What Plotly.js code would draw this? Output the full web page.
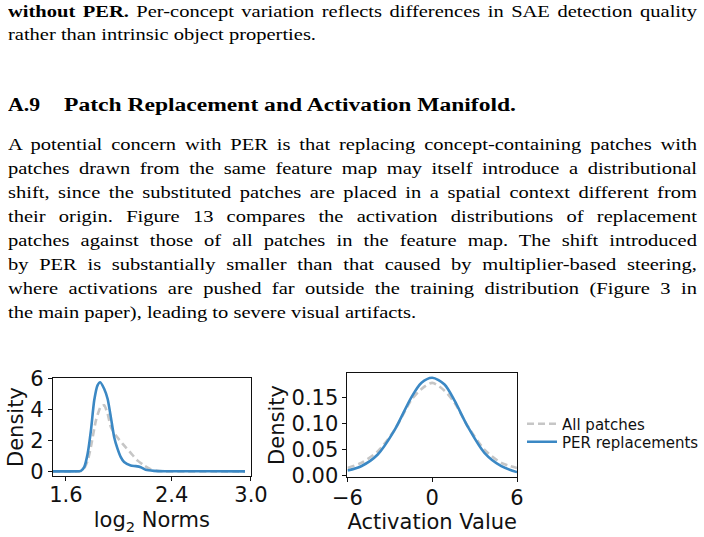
<!DOCTYPE html>
<html>
<head>
<meta charset="utf-8">
<script src="https://cdn.plot.ly/plotly-3.0.1.min.js"></script>
<style>
  html, body { margin: 0; padding: 0; background: #fff; }
  body { width: 704px; height: 537px; position: relative; overflow: hidden; }
  .ln { position: absolute; left: 8px; width: 574px; font-family: 'Liberation Serif', serif; font-size: 17px; line-height: 24px; color: #000; text-align: justify; text-align-last: justify; transform-origin: 0 0; transform: scaleX(1.2); }
  .ln.last { text-align-last: left; }
  .hd { position: absolute; font-family: 'Liberation Serif', serif; font-weight: bold; font-size: 18px; line-height: 24px; color: #000; white-space: nowrap; transform-origin: 0 0; }
  #measure { position: absolute; visibility: hidden; white-space: nowrap; font-family: 'Liberation Serif', serif; font-size: 17px; }
  #chart { position: absolute; left: 0; top: 360px; width: 704px; height: 177px; }
</style>
</head>
<body>
<div class="ln" style="top:0px"><b>without PER.</b> Per-concept variation reflects differences in SAE detection quality</div>
<div class="ln last" style="top:23px">rather than intrinsic object properties.</div>
<div class="hd" id="hdNum" style="top:93px;left:8px">A.9</div>
<div class="hd" id="hdText" style="top:93px;left:64px">Patch Replacement and Activation Manifold.</div>
<div class="ln" style="top:133px">A potential concern with PER is that replacing concept-containing patches with</div>
<div class="ln" style="top:157px">patches drawn from the same feature map may itself introduce a distributional</div>
<div class="ln" style="top:181px">shift, since the substituted patches are placed in a spatial context different from</div>
<div class="ln" style="top:205px">their origin. Figure 13 compares the activation distributions of replacement</div>
<div class="ln" style="top:229px">patches against those of all patches in the feature map. The shift introduced</div>
<div class="ln" style="top:253px">by PER is substantially smaller than that caused by multiplier-based steering,</div>
<div class="ln" style="top:277px">where activations are pushed far outside the training distribution (Figure 3 in</div>
<div class="ln last" style="top:301px">the main paper), leading to severe visual artifacts.</div>
<span id="measure">rather than intrinsic object properties.</span>
<div id="chart"></div>
<script>
// ---- Data ----
const seriesNames = ["All patches", "PER replacements"];

// Left panel: log2 norms densities
const normAllX = [1.50, 1.60, 1.70, 1.73, 1.764, 1.789, 1.827, 1.864, 1.889, 1.915, 1.940, 1.977, 2.028, 2.09, 2.14, 2.19, 2.24, 2.29, 2.35, 2.5, 2.7, 2.955];
const normAllY = [0.0, 0.0, 0.01, 0.1, 0.7, 1.6, 3.3, 4.2, 4.28, 3.74, 2.88, 2.34, 1.8, 1.2, 0.72, 0.4, 0.15, 0.04, 0.01, 0.0, 0.0, 0.0];
const normPerX = [1.50, 1.60, 1.70, 1.715, 1.738, 1.764, 1.789, 1.814, 1.839, 1.859, 1.889, 1.915, 1.940, 1.965, 1.990, 2.015, 2.040, 2.090, 2.128, 2.166, 2.204, 2.266, 2.35, 2.5, 2.7, 2.955];
const normPerY = [0.01, 0.01, 0.02, 0.05, 0.28, 1.14, 2.66, 4.6, 5.57, 5.77, 5.35, 4.7, 3.5, 2.22, 1.48, 0.93, 0.61, 0.39, 0.35, 0.28, 0.11, 0.04, 0.02, 0.02, 0.02, 0.01];

// Right panel: activation value densities
const actX = [-6, -5.03, -3.86, -2.67, -1.49, -0.78, 0, 0.87, 1.58, 2.52, 3.71, 4.89, 6];
const actAllY = [0.0154, 0.025, 0.047, 0.088, 0.145, 0.166, 0.178, 0.163, 0.14, 0.095, 0.05, 0.025, 0.015];
const actPerY = [0.0105, 0.0186, 0.041, 0.0876, 0.150, 0.178, 0.188, 0.175, 0.144, 0.094, 0.0436, 0.0186, 0.0073];

// Tick labels
const normTicks = [1.6, 2.4, 3.0];
const normTickText = ["1.6", "2.4", "3.0"];
const normYTicks = [0, 2, 4, 6];
const actTicks = [-6, 0, 6];
const actTickText = ["\u22126", "0", "6"];
const actYTicks = [0, 0.05, 0.10, 0.15];
const actYTickText = ["0.00", "0.05", "0.10", "0.15"];

// ---- Text fitting (serif body text is wider in the reference) ----
(function fitText() {
  const natural = document.getElementById("measure").getBoundingClientRect().width;
  const s = 308 / natural;
  document.querySelectorAll(".ln").forEach(function (el) {
    el.style.transform = "scaleX(" + s + ")";
    el.style.width = (689 / s) + "px";
  });
  function fitTo(id, w) {
    const el = document.getElementById(id);
    const nw = el.getBoundingClientRect().width;
    el.style.transform = "scaleX(" + (w / nw) + ")";
  }
  fitTo("hdNum", 32);
  fitTo("hdText", 452);
})();

// ---- Styling ----
const GRAY = "#c6c6c6";
const BLUE = "#3b88c4";
const FONT = "DejaVu Sans, sans-serif";

const traces = [
  {x: normAllX, y: normAllY, xaxis: "x", yaxis: "y", mode: "lines", name: seriesNames[0], showlegend: false,
   line: {color: GRAY, width: 2.6, dash: "7px,4px", shape: "spline", smoothing: 0.6}},
  {x: normPerX, y: normPerY, xaxis: "x", yaxis: "y", mode: "lines", name: seriesNames[1], showlegend: false,
   line: {color: BLUE, width: 2.6, shape: "spline", smoothing: 0.6}},
  {x: actX, y: actAllY, xaxis: "x2", yaxis: "y2", mode: "lines", name: seriesNames[0], legend: "legend",
   line: {color: GRAY, width: 2.6, dash: "7px,4px", shape: "spline", smoothing: 0.8}},
  {x: actX, y: actPerY, xaxis: "x2", yaxis: "y2", mode: "lines", name: seriesNames[1], legend: "legend2",
   line: {color: BLUE, width: 2.6, shape: "spline", smoothing: 0.8}}
];

const axCommon = {
  showline: true, mirror: true, linecolor: "#111", linewidth: 1,
  ticks: "outside", ticklen: 4, tickwidth: 1, tickcolor: "#111",
  showgrid: false, zeroline: false, fixedrange: true,
  tickfont: {family: FONT, size: 21, color: "#111"}
};
const titleFont = {family: FONT, size: 21, color: "#111"};

const layout = {
  width: 704, height: 177,
  margin: {l: 0, r: 0, t: 0, b: 0},
  paper_bgcolor: "rgba(0,0,0,0)", plot_bgcolor: "#fff",
  font: {family: FONT, color: "#111"},
  xaxis: Object.assign({}, axCommon, {domain: [0.0749, 0.3565], range: [1.5, 3.0], anchor: "y",
    tickvals: normTicks, ticktext: normTickText, ticklabelstandoff: -4,
    title: {text: "log<sub>2</sub> Norms", font: titleFont, standoff: 6}}),
  yaxis: Object.assign({}, axCommon, {domain: [0.3463, 0.8955], range: [-0.27, 6.01], anchor: "x",
    tickvals: normYTicks,
    title: {text: "Density", font: titleFont, standoff: 0}}),
  xaxis2: Object.assign({}, axCommon, {domain: [0.4936, 0.7344], range: [-6, 6], anchor: "y2",
    tickvals: actTicks, ticktext: actTickText, ticklabelstandoff: -2,
    title: {text: "Activation Value", font: titleFont, standoff: 5}}),
  yaxis2: Object.assign({}, axCommon, {domain: [0.339, 0.9266], range: [-0.002, 0.197], anchor: "x2",
    tickvals: actYTicks, ticktext: actYTickText,
    title: {text: "Density", font: titleFont, standoff: 1}}),
  legend: {x: 522/704, y: (177 - 64) / 177, xanchor: "left", yanchor: "middle", bgcolor: "rgba(0,0,0,0)",
    font: {family: FONT, size: 15, color: "#111"}, itemwidth: 30},
  legend2: {x: 522/704, y: (177 - 82) / 177, xanchor: "left", yanchor: "middle", bgcolor: "rgba(0,0,0,0)",
    font: {family: FONT, size: 15, color: "#111"}, itemwidth: 30},
  showlegend: true
};

Plotly.newPlot("chart", traces, layout, {staticPlot: true, displayModeBar: false});
</script>
</body>
</html>
